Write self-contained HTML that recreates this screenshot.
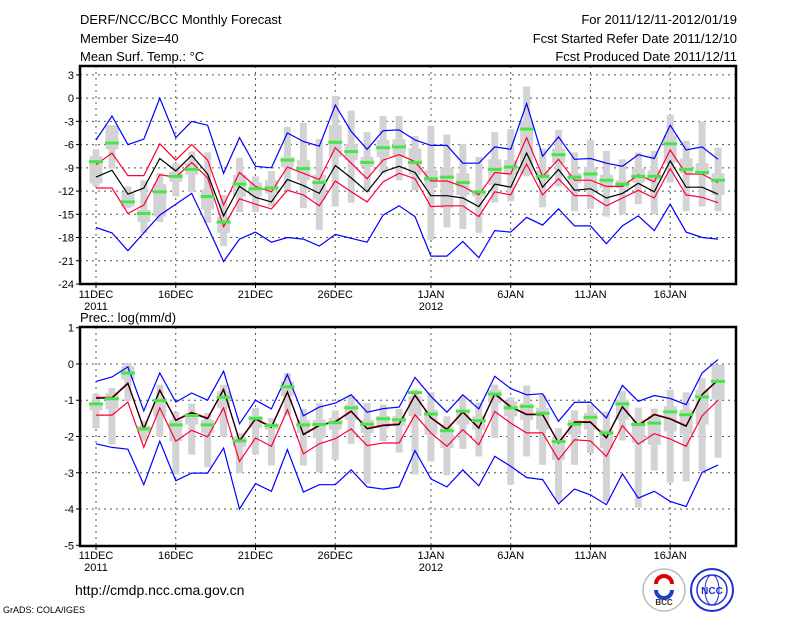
<!DOCTYPE html>
<html><head><meta charset="utf-8"><style>
html,body{margin:0;padding:0;background:#fff;}
svg{display:block;font-family:"Liberation Sans",sans-serif;}
</style></head><body>
<svg id="chart" width="800" height="618" viewBox="0 0 800 618" xmlns="http://www.w3.org/2000/svg">
<rect width="800" height="618" fill="#fff"/>
<g font-size="13" fill="#000">
<text x="80" y="24">DERF/NCC/BCC Monthly Forecast</text>
<text x="80" y="43">Member Size=40</text>
<text x="80" y="61">Mean Surf. Temp.: °C</text>
<text x="737" y="24" text-anchor="end">For 2011/12/11-2012/01/19</text>
<text x="737" y="43" text-anchor="end">Fcst Started Refer Date 2011/12/10</text>
<text x="737" y="61" text-anchor="end">Fcst Produced Date 2011/12/11</text>
<text x="80" y="322">Prec.: log(mm/d)</text>
<text x="75" y="595" font-size="14">http://cmdp.ncc.cma.gov.cn</text>
<text x="3" y="613" font-size="9">GrADS: COLA/IGES</text>
</g>
<g>
<circle cx="664" cy="590" r="21" fill="#fff" stroke="#bbb" stroke-width="1.5"/>
<path d="M656 584 a8 8 0 0 1 16 0" fill="none" stroke="#d00" stroke-width="4"/>
<path d="M656 590 a8 8 0 0 0 16 0" fill="none" stroke="#2040c0" stroke-width="4"/>
<text x="664" y="605" font-size="8" text-anchor="middle" font-weight="bold" fill="#333">BCC</text>
</g>
<g>
<circle cx="712" cy="590" r="21" fill="#fff" stroke="#2030d0" stroke-width="2"/>
<circle cx="712" cy="590" r="15" fill="none" stroke="#2030d0" stroke-width="1.5"/>
<ellipse cx="712" cy="590" rx="7" ry="15" fill="none" stroke="#2030d0" stroke-width="1"/>
<text x="712" y="594" font-size="10" text-anchor="middle" font-weight="bold" fill="#2030d0">NCC</text>
</g>
<g id="top"></g>
<g id="bot"></g>
</svg>
<script>
// ---------- temperature panel data ----------
const days = ["11DEC","12","13","14","15","16DEC","17","18","19","20","21DEC","22","23","24","25","26DEC","27","28","29","30","31","1JAN","2","3","4","6JAN-1","6JAN","7","8","9","10","11JAN","12","13","14","15","16JAN","17","18","19"];
const xTickIdx = [0,5,10,15,21,26,31,36];
const xTickLabels = ["11DEC","16DEC","21DEC","26DEC","1JAN","6JAN","11JAN","16JAN"];
const xYearIdx = [0,21];
const xYearLabels = ["2011","2012"];
const tTicks = [3,0,-3,-6,-9,-12,-15,-18,-21,-24];
const tMean = [-10.2,-9.3,-12.4,-11.6,-7.8,-9.4,-7.4,-9.8,-15.2,-11.4,-12.8,-13.4,-10.5,-11.3,-12.3,-8.7,-10.3,-12.1,-9.5,-8.8,-9.6,-12.6,-12.6,-12.9,-14.0,-11.1,-11.5,-7.1,-11.5,-9.2,-11.9,-11.7,-12.9,-12.3,-11.0,-12.1,-8.1,-11.5,-11.5,-12.4];
const tRedHi = [-8.6,-7.1,-10.0,-10.0,-5.9,-8.0,-6.0,-8.0,-13.8,-9.6,-11.4,-12.1,-8.9,-9.7,-10.5,-6.4,-8.4,-10.4,-8.0,-7.3,-8.2,-10.7,-10.7,-11.4,-12.5,-9.6,-9.8,-5.1,-10.1,-7.9,-10.6,-10.6,-11.4,-11.4,-9.9,-10.8,-6.7,-9.8,-9.8,-10.9];
const tRedLo = [-11.6,-11.6,-14.9,-13.8,-9.9,-10.2,-8.3,-10.3,-16.6,-13.0,-13.7,-14.3,-11.9,-12.5,-13.9,-10.7,-12.1,-13.4,-10.8,-9.7,-10.4,-14.0,-13.9,-13.9,-15.3,-12.1,-12.5,-8.5,-12.5,-10.4,-12.6,-12.6,-13.9,-12.9,-11.9,-12.9,-9.1,-12.5,-12.8,-13.5];
const tBlueHi = [-5.4,-2.3,-6.0,-5.3,0.0,-5.1,-3.0,-3.5,-9.7,-5.1,-8.8,-9.0,-4.5,-5.6,-6.2,-0.9,-4.3,-6.6,-4.2,-4.1,-5.4,-6.1,-6.1,-8.4,-8.4,-6.3,-6.6,-0.7,-7.5,-5.0,-7.9,-7.8,-8.4,-8.8,-7.3,-7.8,-3.5,-6.7,-6.3,-7.9];
const tBlueLo = [-16.7,-17.4,-19.7,-17.4,-15.1,-13.7,-12.3,-16.6,-21.1,-18.2,-17.3,-18.6,-18.0,-18.2,-19.1,-17.6,-18.1,-18.6,-15.1,-13.9,-15.3,-20.4,-20.4,-18.5,-20.6,-17.1,-17.3,-15.4,-16.4,-14.3,-16.5,-16.5,-18.8,-16.5,-15.2,-17.1,-13.7,-17.3,-18.0,-18.2];
const tMedian = [-8.2,-5.8,-13.4,-14.9,-12.1,-10.1,-9.2,-12.7,-16.0,-11.1,-11.7,-11.6,-8.0,-9.1,-10.9,-5.7,-6.9,-8.3,-6.4,-6.3,-8.3,-10.4,-10.2,-10.9,-12.1,-9.2,-8.9,-4.0,-10.1,-7.3,-10.2,-9.8,-10.6,-11.1,-10.1,-10.1,-5.9,-9.2,-9.6,-10.6];
const tWhiskHi = [-6.6,-3.5,-11.4,-10.6,-9.7,-8.4,-6.9,-7.0,-12.5,-7.7,-10.1,-9.4,-3.7,-3.2,-5.3,0.3,-1.6,-4.4,-2.3,-2.3,-4.9,-3.6,-4.7,-5.9,-7.6,-4.4,-4.0,1.5,-6.5,-4.1,-7.0,-5.4,-6.8,-7.9,-7.0,-6.8,-2.2,-5.5,-3.0,-6.4];
const tWhiskLo = [-11.4,-9.1,-14.2,-17.4,-16.0,-12.7,-12.1,-16.1,-19.1,-14.7,-14.7,-14.0,-11.9,-14.2,-17.0,-14.0,-13.5,-11.9,-9.7,-10.6,-11.9,-18.3,-16.7,-16.9,-17.4,-13.5,-13.3,-10.1,-14.1,-11.4,-14.6,-14.3,-15.3,-15.0,-13.7,-15.0,-10.9,-14.6,-14.0,-14.6];
const tBoxHi = [-7.5,-3.5,-12.1,-14.4,-11.1,-9.5,-8.4,-11.8,-15.3,-9.9,-10.9,-10.6,-7.6,-8.0,-9.9,-3.5,-5.9,-7.6,-5.4,-5.3,-6.5,-9.3,-9.0,-9.7,-11.9,-7.9,-8.0,-2.9,-9.3,-6.5,-9.7,-8.9,-9.9,-10.6,-9.1,-9.3,-4.8,-7.8,-8.4,-9.7];
const tBoxLo = [-11.0,-6.6,-14.0,-16.0,-15.3,-10.8,-9.9,-14.4,-17.4,-12.7,-12.7,-12.3,-8.9,-10.6,-13.1,-7.6,-8.0,-8.9,-7.6,-7.6,-9.9,-11.6,-14.2,-12.5,-12.7,-11.2,-9.9,-9.9,-10.6,-8.4,-11.0,-11.9,-11.6,-11.6,-10.9,-10.6,-8.4,-9.7,-9.9,-12.5];
// ---------- precipitation panel data ----------
const pTicks = [1,0,-1,-2,-3,-4,-5];
const pMean = [-0.94,-0.94,-0.54,-1.79,-0.73,-1.56,-1.35,-1.51,-0.71,-2.13,-1.52,-1.75,-0.78,-1.95,-1.70,-1.60,-1.31,-1.79,-1.70,-1.67,-0.87,-1.49,-1.81,-1.33,-1.77,-0.83,-1.19,-1.40,-1.40,-2.18,-1.61,-1.61,-2.04,-1.19,-1.70,-1.40,-1.52,-1.72,-0.85,-0.45];
const pRedHi = [-0.92,-0.92,-0.52,-1.77,-0.71,-1.54,-1.33,-1.49,-0.69,-2.11,-1.50,-1.73,-0.76,-1.93,-1.68,-1.58,-1.29,-1.77,-1.68,-1.65,-0.85,-1.47,-1.79,-1.31,-1.75,-0.81,-1.17,-1.38,-1.38,-2.16,-1.59,-1.59,-2.02,-1.17,-1.68,-1.38,-1.50,-1.70,-0.83,-0.43];
const pRedLo = [-1.41,-1.41,-1.05,-2.30,-1.21,-2.13,-1.83,-2.01,-1.21,-2.69,-2.04,-2.27,-1.26,-2.48,-2.20,-2.06,-1.79,-2.25,-2.18,-2.18,-1.40,-1.90,-2.27,-1.81,-2.23,-1.31,-1.63,-1.90,-1.90,-2.64,-2.09,-2.12,-2.55,-1.70,-2.21,-1.92,-2.07,-2.27,-1.43,-1.00];
const pBlueHi = [-0.48,-0.36,-0.08,-1.29,-0.25,-1.05,-0.80,-1.00,-0.20,-1.65,-1.00,-1.24,-0.29,-1.43,-1.19,-1.08,-0.85,-1.33,-1.23,-1.19,-0.37,-0.89,-1.33,-0.85,-1.24,-0.34,-0.68,-0.85,-0.82,-1.58,-1.06,-1.05,-1.49,-0.59,-1.03,-0.87,-0.95,-1.12,-0.25,0.12];
const pBlueLo = [-2.20,-2.30,-2.35,-3.33,-2.13,-3.22,-3.01,-3.01,-2.32,-4.00,-3.30,-3.51,-2.36,-3.53,-3.33,-3.33,-2.92,-3.39,-3.45,-3.39,-2.39,-3.17,-3.39,-2.92,-3.36,-2.55,-2.82,-3.13,-3.19,-3.86,-3.45,-3.61,-3.88,-3.03,-3.70,-3.51,-3.79,-3.93,-2.99,-2.79];
const pMedian = [-1.10,-0.96,-0.25,-1.79,-1.01,-1.68,-1.42,-1.68,-0.92,-2.12,-1.50,-1.70,-0.63,-1.68,-1.67,-1.62,-1.21,-1.66,-1.51,-1.54,-0.79,-1.38,-1.84,-1.30,-1.56,-0.83,-1.21,-1.17,-1.36,-2.14,-1.66,-1.47,-1.90,-1.10,-1.67,-1.63,-1.32,-1.40,-0.91,-0.48];
const pWhiskHi = [-0.82,-0.66,0.03,-1.56,-0.57,-1.32,-1.10,-1.35,-0.57,-1.90,-1.21,-1.49,-0.25,-1.24,-1.08,-1.28,-0.89,-1.08,-1.12,-1.24,-0.71,-0.78,-1.44,-0.89,-1.06,-0.57,-0.92,-0.59,-0.85,-1.77,-1.28,-1.12,-1.31,-0.75,-1.20,-1.23,-0.71,-0.78,-0.39,-0.02];
const pWhiskLo = [-1.78,-2.22,-1.03,-2.13,-2.01,-3.05,-2.50,-2.85,-2.01,-3.01,-2.50,-2.80,-1.40,-2.80,-2.99,-2.64,-2.20,-3.30,-2.13,-2.44,-3.05,-2.69,-3.07,-2.34,-2.55,-2.04,-3.33,-2.55,-2.78,-3.79,-2.78,-2.46,-3.79,-2.11,-3.96,-2.94,-3.27,-3.24,-2.96,-2.59];
const pBoxHi = [-1.08,-0.80,-0.06,-1.70,-0.98,-1.54,-1.35,-1.54,-0.75,-2.00,-1.43,-1.63,-0.48,-1.54,-1.54,-1.49,-1.12,-1.54,-1.43,-1.44,-0.89,-1.26,-1.72,-1.26,-1.44,-0.71,-1.03,-1.08,-1.21,-2.00,-1.54,-1.35,-1.81,-0.98,-1.54,-1.44,-1.17,-1.26,-0.71,-0.02];
const pBoxLo = [-1.28,-1.24,-0.43,-1.90,-1.44,-2.13,-1.67,-1.90,-1.21,-2.29,-1.77,-1.81,-0.89,-1.90,-2.04,-1.81,-1.54,-1.90,-1.77,-1.72,-1.44,-1.95,-2.32,-1.67,-1.81,-1.08,-1.44,-1.54,-1.81,-2.64,-1.95,-1.81,-2.32,-1.54,-2.18,-2.23,-1.86,-1.95,-1.67,-0.98];

const NS = "http://www.w3.org/2000/svg";
const X0 = 96, DX = 15.95, FL = 80, FR = 736;
function xs(i){ return X0 + i*DX; }
function mk(parent, tag, attrs){
  const e = document.createElementNS(NS, tag);
  for (const k in attrs) e.setAttribute(k, attrs[k]);
  parent.appendChild(e); return e;
}
function panel(gid, top, bottom, vmax, vmin, ticks, D, hasRedHiSep, labelY){
  const g = document.getElementById(gid);
  const ys = v => top + (vmax - v) * (bottom - top) / (vmax - vmin);
  // grid
  ticks.forEach(t => {
    const y = ys(t);
    if (y > top + 2 && y < bottom - 2) {
      const l = mk(g, "line", {x1:FL, x2:FR, y1:y, y2:y, stroke:"#555", "stroke-dasharray":"2,4", "stroke-width":1});
      
      
    }
    const tk = mk(g, "line", {x1:FL-4, x2:FL, y1:y, y2:y, stroke:"#000"});
    
    
    const tx = mk(g, "text", {x:FL-6, y:y+4, "text-anchor":"end", "font-size":11});
    tx.textContent = t;
    
    
  });
  xTickIdx.forEach((idx, k) => {
    const x = xs(idx);
    const l = mk(g, "line", {x1:x, x2:x, y1:top, y2:bottom, stroke:"#555", "stroke-dasharray":"2,4"});
    
    
    const tk = mk(g, "line", {x1:x, x2:x, y1:bottom, y2:bottom+4, stroke:"#000"});
    
    
    const tx = mk(g, "text", {x:x, y:labelY, "text-anchor":"middle", "font-size":11});
    tx.textContent = xTickLabels[k];
    
    
  });
  xYearIdx.forEach((idx, k) => {
    const tx = mk(g, "text", {x:xs(idx), y:labelY+12, "text-anchor":"middle", "font-size":11});
    tx.textContent = xYearLabels[k];
    
    
  });
  // gray whiskers and boxes
  D.wHi.forEach((v, i) => {
    const r = mk(g, "rect", {x:xs(i)-3.5, y:ys(v), width:7, height:ys(D.wLo[i])-ys(v), fill:"#d3d3d6"});
    
    
    const b = mk(g, "rect", {x:xs(i)-6.5, y:ys(D.bHi[i]), width:13, height:ys(D.bLo[i])-ys(D.bHi[i]), fill:"#d3d3d6"});
    
    
  });
  const line = (arr, color, name) => {
    const p = mk(g, "polyline", {points: arr.map((v,i)=>xs(i).toFixed(1)+","+ys(v).toFixed(1)).join(" "), fill:"none", stroke:color, "stroke-width":1.2});
    
    
  };
  line(D.blueHi, "#0000ff", "upper-bound-line");
  line(D.blueLo, "#0000ff", "lower-bound-line");
  line(D.redHi, "#ff0033", "upper-std-line");
  line(D.redLo, "#ff0033", "lower-std-line");
  line(D.mean, "#000", "ensemble-mean-line");
  D.med.forEach((v, i) => {
    const m = mk(g, "rect", {x:xs(i)-7, y:ys(v)-1.5, width:14, height:3, fill:"#44e844"});
    
    
  });
  const f = mk(g, "rect", {x:FL, y:top, width:FR-FL, height:bottom-top, fill:"none", stroke:"#000", "stroke-width":2.5});
  
  
}
panel("top", 66, 284, 4.15, -24, tTicks,
  {mean:tMean, redHi:tRedHi, redLo:tRedLo, blueHi:tBlueHi, blueLo:tBlueLo, med:tMedian, wHi:tWhiskHi, wLo:tWhiskLo, bHi:tBoxHi, bLo:tBoxLo}, true, 298);
panel("bot", 327, 546, 1.02, -5.02, pTicks,
  {mean:pMean, redHi:pRedHi, redLo:pRedLo, blueHi:pBlueHi, blueLo:pBlueLo, med:pMedian, wHi:pWhiskHi, wLo:pWhiskLo, bHi:pBoxHi, bLo:pBoxLo}, false, 559);
</script>
</body></html>
